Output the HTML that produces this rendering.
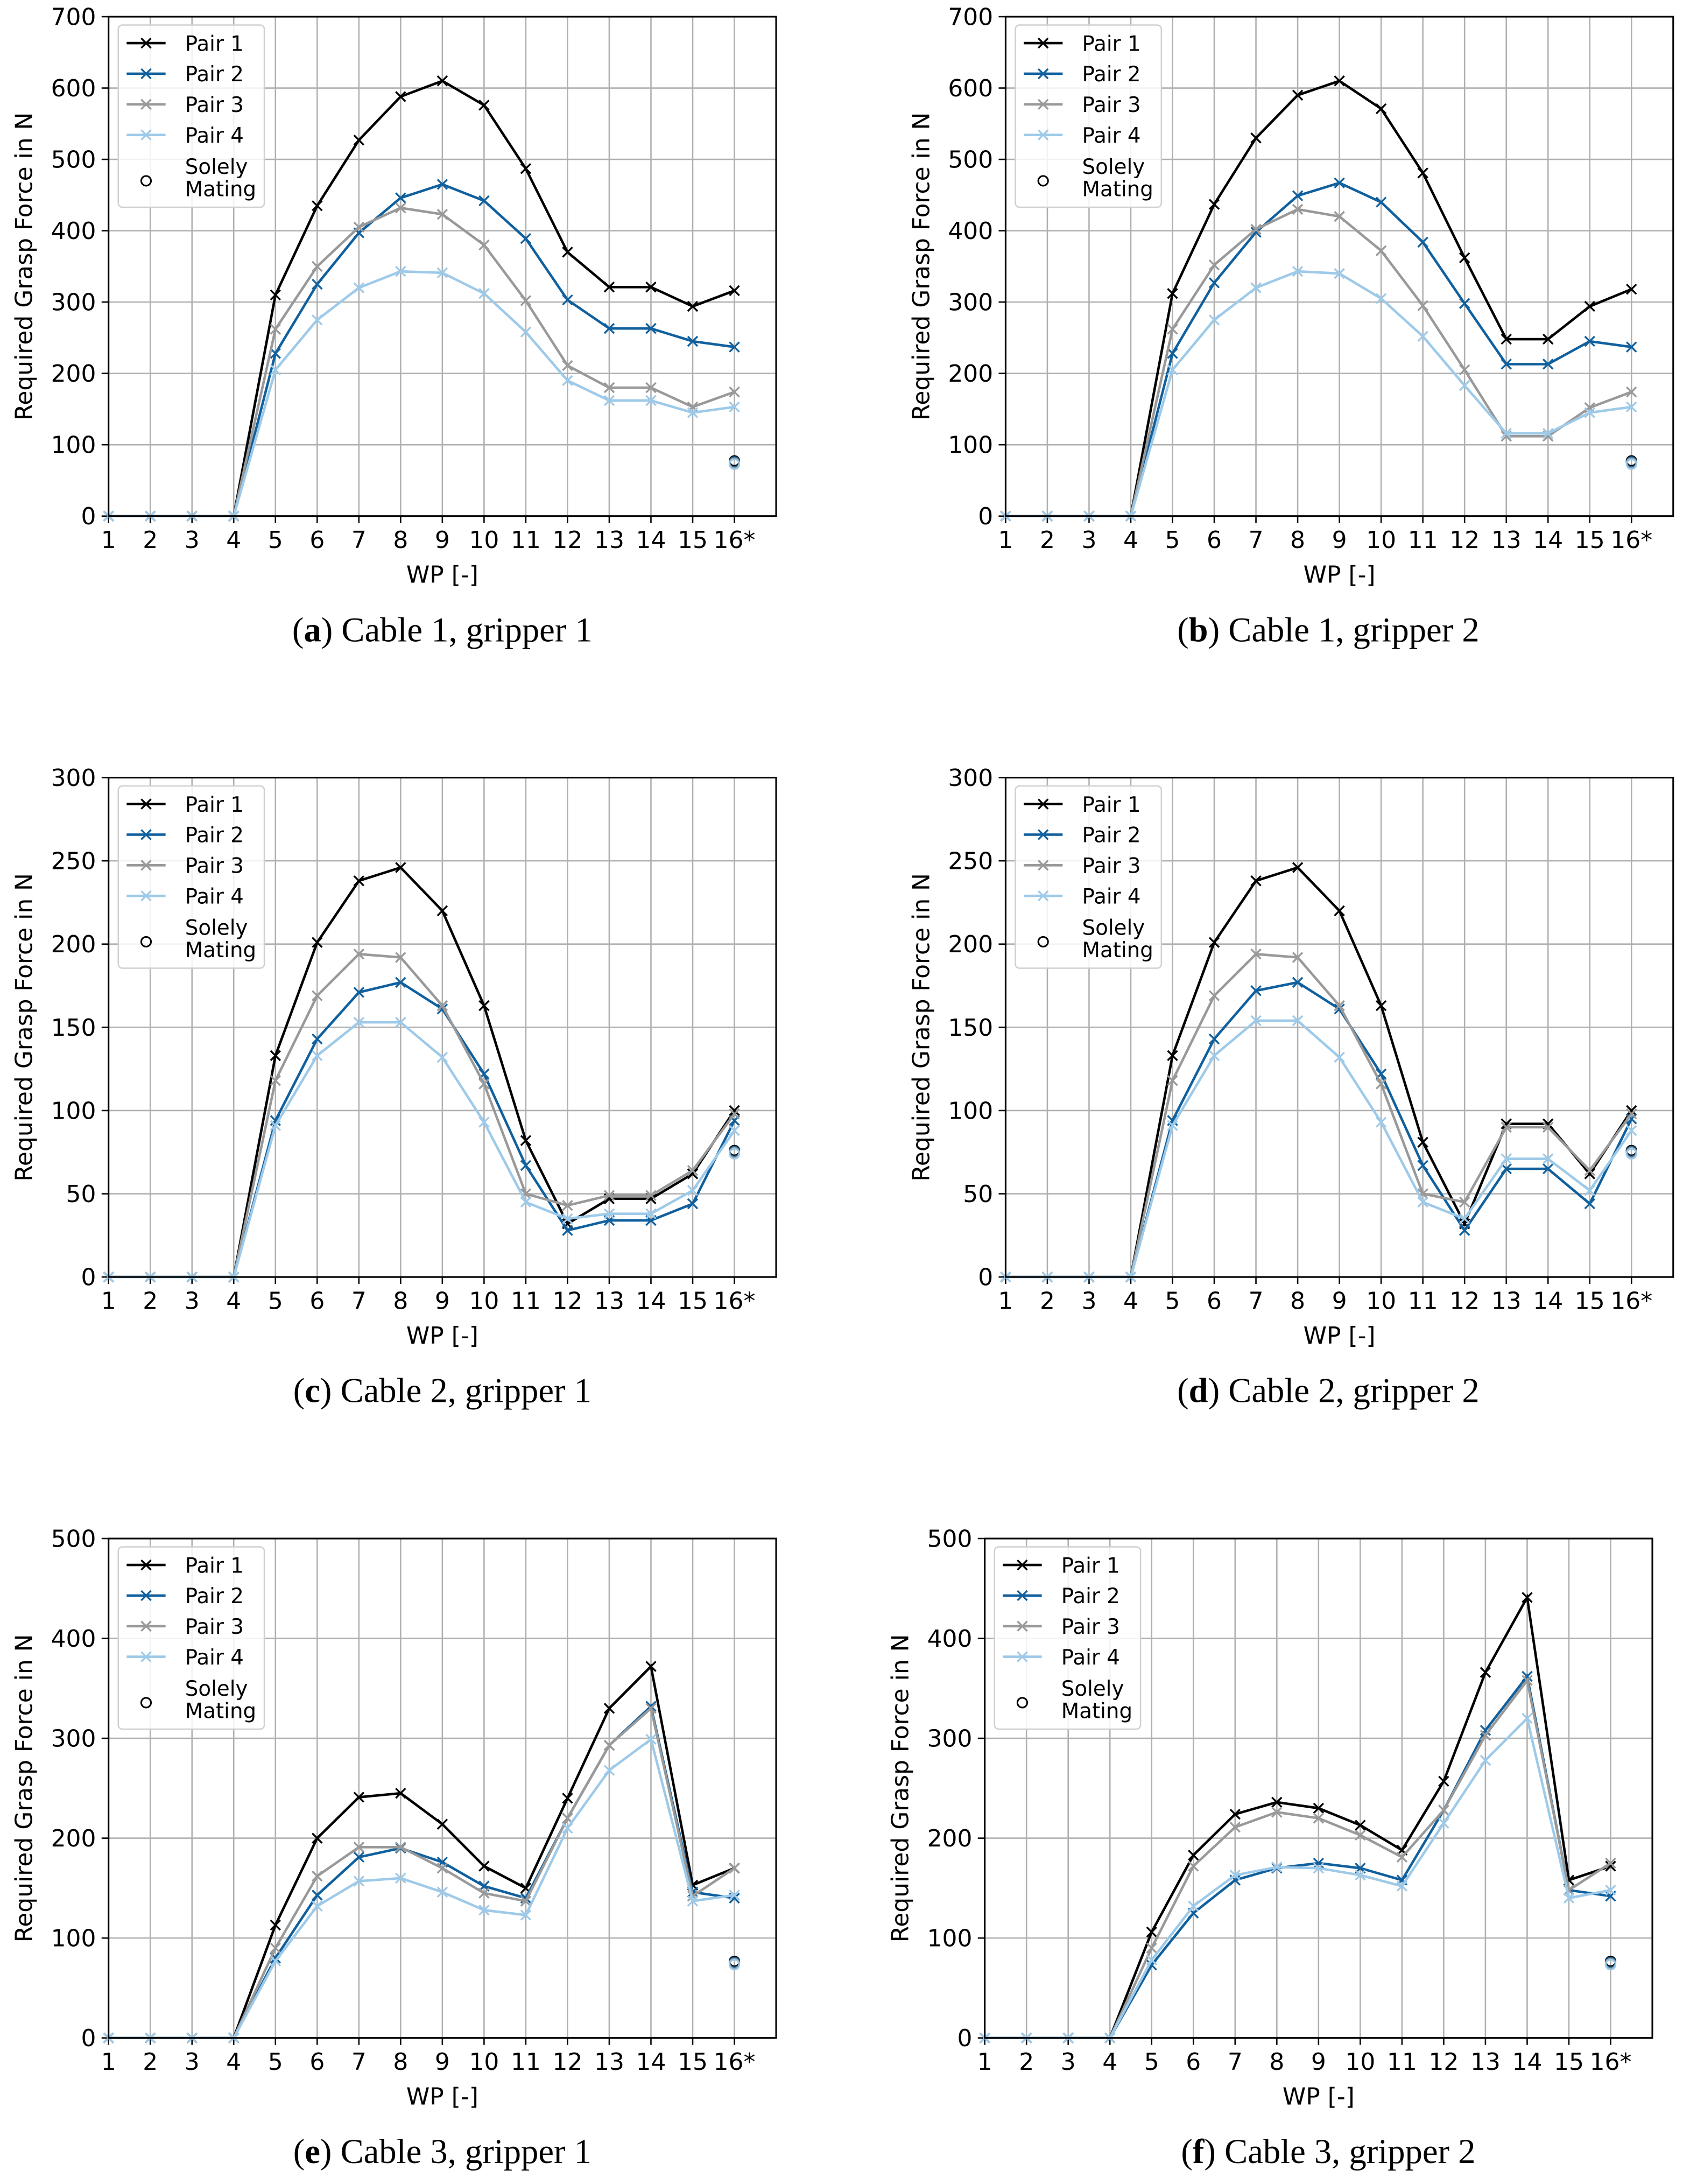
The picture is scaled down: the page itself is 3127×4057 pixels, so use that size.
<!DOCTYPE html>
<html><head><meta charset="utf-8">
<style>
html,body{margin:0;padding:0;background:#fff;}
svg{display:block;}
text{font-family:"DejaVu Sans","Liberation Sans",sans-serif;}
.cap{font-family:"Liberation Serif",serif;}
</style></head>
<body>
<svg id="fig" width="3127" height="4057" viewBox="0 0 1210 1570" xmlns="http://www.w3.org/2000/svg"></svg>
<script>
const wps = ["1","2","3","4","5","6","7","8","9","10","11","12","13","14","15","16*"];
const seriesNames = ["Pair 1","Pair 2","Pair 3","Pair 4"];
const colors = ["#000000","#10609e","#999999","#9ecae9"];
const soloValue = 75;
const a_p1=[0,0,0,0,310,435,527,588,610,576,487,370,321,321,294,316];
const a_p2=[0,0,0,0,228,325,397,446,465,442,389,303,263,263,245,237];
const a_p3=[0,0,0,0,262,350,405,432,423,380,302,211,180,180,153,174];
const a_p4=[0,0,0,0,205,275,320,343,341,312,258,190,162,162,145,153];
const b_p1=[0,0,0,0,312,437,530,590,610,571,481,362,248,248,294,318];
const b_p2=[0,0,0,0,228,327,398,449,467,440,384,298,213,213,245,237];
const b_p3=[0,0,0,0,262,352,402,430,420,372,295,205,112,112,152,174];
const b_p4=[0,0,0,0,205,275,320,343,340,305,252,183,116,116,145,153];
const c_p1=[0,0,0,0,133,201,238,246,220,163,82,32,47,47,62,100];
const c_p2=[0,0,0,0,94,143,171,177,161,122,67,28,34,34,44,94];
const c_p3=[0,0,0,0,118,169,194,192,163,116,50,43,49,49,64,98];
const c_p4=[0,0,0,0,91,133,153,153,132,93,45,35,38,38,52,88];
const d_p1=[0,0,0,0,133,201,238,246,220,163,81,32,92,92,62,100];
const d_p2=[0,0,0,0,94,143,172,177,161,122,67,28,65,65,44,95];
const d_p3=[0,0,0,0,118,169,194,192,163,116,50,45,90,90,64,98];
const d_p4=[0,0,0,0,91,133,154,154,132,93,45,35,71,71,52,88];
const e_p1=[0,0,0,0,113,200,241,245,214,172,150,240,330,372,153,170];
const e_p2=[0,0,0,0,80,143,181,190,176,152,140,220,293,332,146,140];
const e_p3=[0,0,0,0,90,162,191,191,170,145,137,220,293,330,142,170];
const e_p4=[0,0,0,0,77,132,157,160,146,128,123,210,268,299,137,143];
const f_p1=[0,0,0,0,106,183,224,236,230,213,188,257,366,441,158,172];
const f_p2=[0,0,0,0,73,125,158,170,175,170,158,228,308,362,148,142];
const f_p3=[0,0,0,0,90,172,211,226,220,203,181,228,303,358,148,175];
const f_p4=[0,0,0,0,78,132,163,171,170,163,152,215,278,320,140,148];
const yTicksA=[0,100,200,300,400,500,600,700];
const yTicksC=[0,50,100,150,200,250,300];
const yTicksE=[0,100,200,300,400,500];

const NS="http://www.w3.org/2000/svg";
const svg=document.getElementById('fig');
function el(tag,attrs,parent){const e=document.createElementNS(NS,tag);for(const k in attrs)e.setAttribute(k,attrs[k]);(parent||svg).appendChild(e);return e;}

const panels=[
 {id:'a',x0:78,top:12,bot:371,ymax:700,ticks:yTicksA,data:[a_p1,a_p2,a_p3,a_p4],cap:'Cable 1, gripper 1',ylx:17},
 {id:'b',x0:723,top:12,bot:371,ymax:700,ticks:yTicksA,data:[b_p1,b_p2,b_p3,b_p4],cap:'Cable 1, gripper 2',ylx:662},
 {id:'c',x0:78,top:559,bot:918,ymax:300,ticks:yTicksC,data:[c_p1,c_p2,c_p3,c_p4],cap:'Cable 2, gripper 1',ylx:17},
 {id:'d',x0:723,top:559,bot:918,ymax:300,ticks:yTicksC,data:[d_p1,d_p2,d_p3,d_p4],cap:'Cable 2, gripper 2',ylx:662},
 {id:'e',x0:78,top:1106,bot:1465,ymax:500,ticks:yTicksE,data:[e_p1,e_p2,e_p3,e_p4],cap:'Cable 3, gripper 1',ylx:17},
 {id:'f',x0:708,top:1106,bot:1465,ymax:500,ticks:yTicksE,data:[f_p1,f_p2,f_p3,f_p4],cap:'Cable 3, gripper 2',ylx:647},
];

function xmark(g,x,y,c,s){el('path',{d:`M${x-s},${y-s}L${x+s},${y+s}M${x-s},${y+s}L${x+s},${y-s}`,stroke:c,'stroke-width':1.3,fill:'none'},g);}

panels.forEach(p=>{
  const W=480;
  const xs=i=>p.x0+i*30;
  const ys=v=>p.bot-(v/p.ymax)*(p.bot-p.top);
  const g=el('g',{});
  
  
  // grid
  wps.forEach((w,i)=>{
    const l=el('line',{x1:xs(i),x2:xs(i),y1:p.top,y2:p.bot,stroke:'#b0b0b0','stroke-width':1},g);
    
    
    el('line',{x1:xs(i),x2:xs(i),y1:p.bot,y2:p.bot+5,stroke:'#000','stroke-width':1},g);
    const t=el('text',{x:xs(i),y:p.bot+23,'text-anchor':'middle','font-size':17,fill:'#000'},g);
    t.textContent=w;
    
    
  });
  p.ticks.forEach(v=>{
    el('line',{x1:p.x0,x2:p.x0+W,y1:ys(v),y2:ys(v),stroke:'#b0b0b0','stroke-width':1},g);
    el('line',{x1:p.x0-5,x2:p.x0,y1:ys(v),y2:ys(v),stroke:'#000','stroke-width':1},g);
    const t=el('text',{x:p.x0-9,y:ys(v)+6,'text-anchor':'end','font-size':17,fill:'#000'},g);
    t.textContent=v;
    
    
  });
  // series
  p.data.forEach((arr,si)=>{
    const sg=el('g',{},g);
    
    
    el('polyline',{points:arr.map((v,i)=>xs(i)+','+ys(v)).join(' '),fill:'none',stroke:colors[si],'stroke-width':1.8},sg);
    arr.forEach((v,i)=>xmark(sg,xs(i),ys(v),colors[si],3.5));
  });
  // solely mating
  [0,1,2,3].forEach(si=>{
    const c=el('circle',{cx:xs(15),cy:ys(soloValue)+(si-1.5)*0.8,r:3.5,fill:'none',stroke:colors[si],'stroke-width':1.2},g);
    
    
  });
  // frame
  el('rect',{x:p.x0,y:p.top,width:W,height:p.bot-p.top,fill:'none',stroke:'#000','stroke-width':1.2},g);
  // legend
  const lg=el('g',{},g);
  
  
  const lx=p.x0+7, ly=p.top+6;
  el('rect',{x:lx,y:ly,width:105,height:131,rx:3,fill:'#fff','fill-opacity':0.85,stroke:'#d0d0d0','stroke-width':1},lg);
  seriesNames.forEach((n,si)=>{
    const yy=ly+13+si*22;
    el('line',{x1:lx+6,x2:lx+34,y1:yy,y2:yy,stroke:colors[si],'stroke-width':1.8},lg);
    xmark(lg,lx+20,yy,colors[si],3.5);
    const t=el('text',{x:lx+48,y:yy+5.5,'font-size':15,fill:'#000'},lg);
    t.textContent=n;
    
    
  });
  el('circle',{cx:lx+20,cy:ly+112,r:3.5,fill:'none',stroke:'#000','stroke-width':1.2},lg);
  const t1=el('text',{x:lx+48,y:ly+107,'font-size':15,fill:'#000'},lg);t1.textContent='Solely';
  const t2=el('text',{x:lx+48,y:ly+123,'font-size':15,fill:'#000'},lg);t2.textContent='Mating';
  
  
  // axis labels
  const xl=el('text',{x:p.x0+W/2,y:p.bot+48,'text-anchor':'middle','font-size':17,fill:'#000'},g);
  xl.textContent='WP [-]';
  
  
  const yc=(p.top+p.bot)/2;
  const yl=el('text',{x:p.ylx,y:yc,'text-anchor':'middle','font-size':17,fill:'#000',transform:`rotate(-90 ${p.ylx} ${yc})`,dy:6},g);
  yl.textContent='Required Grasp Force in N';
  
  
  // caption
  const cx=p.id==='a'||p.id==='c'||p.id==='e'?318:955;
  const cap=el('text',{x:cx,y:p.bot+90,'text-anchor':'middle','font-size':25,fill:'#000',class:'cap'},g);
  cap.innerHTML='(<tspan font-weight="bold">'+p.id+'</tspan>) '+p.cap;
  
  
});
</script>
</body></html>
